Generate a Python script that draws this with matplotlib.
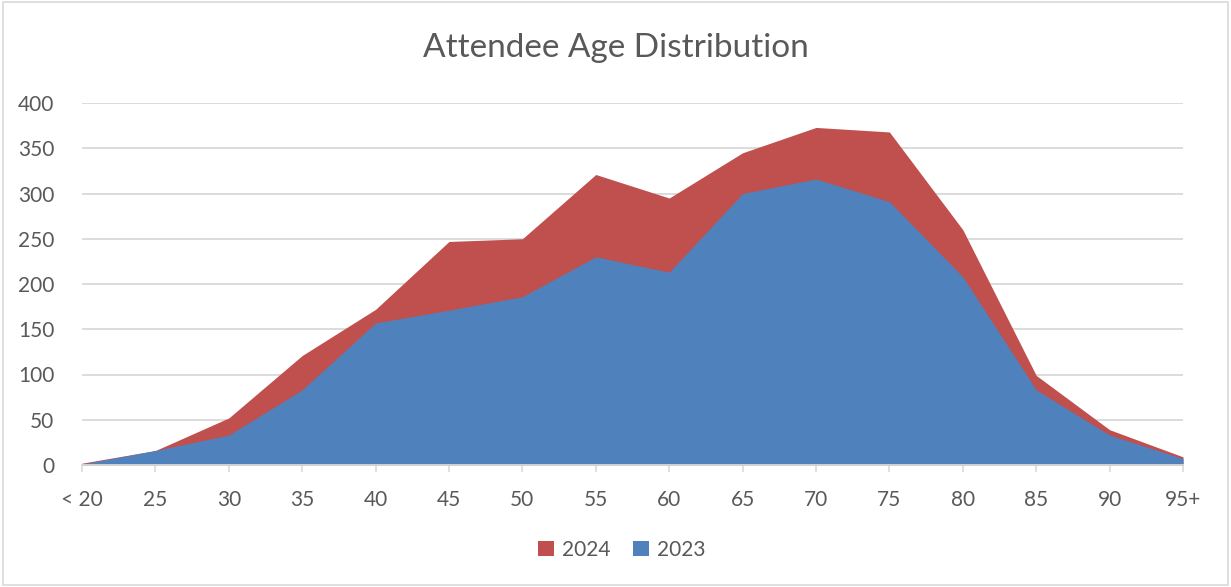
import matplotlib.pyplot as plt
from matplotlib.patches import Rectangle
import numpy as np

plt.rcParams['font.family'] = ['Lato', 'DejaVu Sans']

# Data
age_groups = ['< 20', '25', '30', '35', '40', '45', '50', '55', '60', '65', '70', '75', '80', '85', '90', '95+']
attend_2024 = [2, 16, 52, 121, 172, 247, 250, 321, 295, 345, 373, 368, 260, 99, 39, 9]
attend_2023 = [1, 16, 33, 83, 157, 171, 186, 230, 213, 300, 316, 291, 208, 83, 33, 7]

COLOR_2024 = '#C0504D'
COLOR_2023 = '#4F81BD'
COLOR_TEXT = '#595959'
COLOR_GRID = '#D9D9D9'

W, H = 1231, 587
fig = plt.figure(figsize=(W / 100, H / 100), dpi=100)
ax = fig.add_axes([82 / W, 1 - 465 / H, (1183 - 82) / W, (465 - 103) / H])

x = np.arange(len(age_groups))
ax.fill_between(x, attend_2024, color=COLOR_2024, lw=0, label='2024', zorder=2)
ax.fill_between(x, attend_2023, color=COLOR_2023, lw=0, label='2023', zorder=3)

ax.set_xlim(0, len(age_groups) - 1)
ax.set_ylim(0, 400)
ax.set_yticks(range(0, 401, 50))
ax.set_xticks(x)
ax.set_xticklabels(age_groups)
ax.yaxis.grid(True, color=COLOR_GRID, lw=1.3, zorder=1)
ax.set_axisbelow(True)
for s in ['top', 'right', 'left']:
    ax.spines[s].set_visible(False)
ax.spines['bottom'].set_color(COLOR_GRID)
ax.spines['bottom'].set_linewidth(1.3)
ax.spines['bottom'].set_zorder(4)
ax.tick_params(axis='y', length=0, pad=20, labelsize=15, labelcolor=COLOR_TEXT)
ax.tick_params(axis='x', length=5, width=1.2, color=COLOR_GRID, pad=13,
               labelsize=15, labelcolor=COLOR_TEXT)

fig.suptitle('Attendee Age Distribution', x=0.5, y=1 - 48 / H, va='center',
             fontsize=24, color=COLOR_TEXT)

ax.legend(loc='center', bbox_to_anchor=(622 / W, 1 - 550 / H), bbox_transform=fig.transFigure,
          ncol=2, frameon=False, fontsize=15, handlelength=0.75, handleheight=0.75,
          handletextpad=0.4, columnspacing=1.1, labelcolor=COLOR_TEXT)

# Light chart-area border
fig.patches.append(Rectangle((3 / W, 2 / H), 1 - 6 / W, 1 - 4 / H, transform=fig.transFigure,
                             fill=False, edgecolor=COLOR_GRID, lw=1.2))

fig.savefig('out.png', dpi=100, facecolor='white')
